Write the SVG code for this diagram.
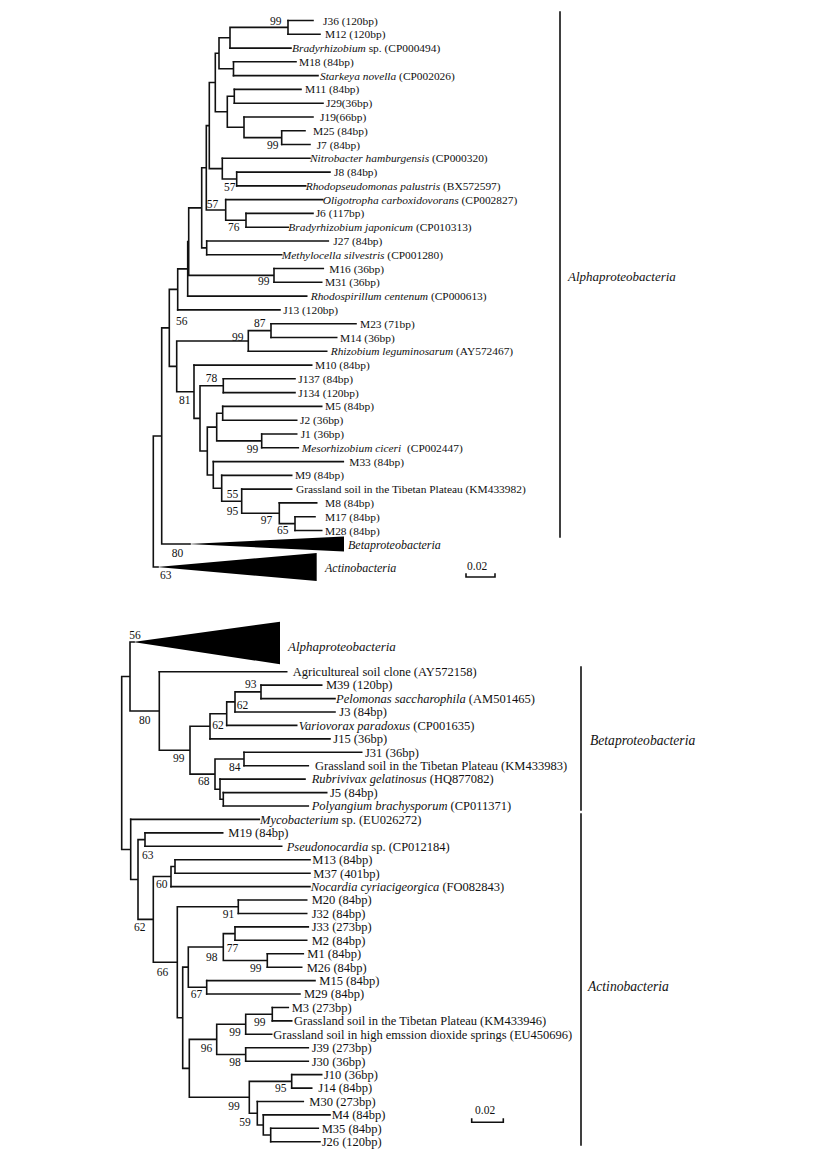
<svg xmlns="http://www.w3.org/2000/svg" width="820" height="1172" viewBox="0 0 820 1172">
<style>
.br{fill:none;stroke:#111;stroke-width:1.6;stroke-linecap:square}
text{font-family:"Liberation Serif","Times New Roman",serif;fill:#111}
.t{font-size:11.4px}
.b{font-size:12.5px}
.n{font-size:11.5px}
.i{font-style:italic}
.g1{font-size:12px;font-style:italic}
.g3{font-size:13px;font-style:italic}
.g2{font-size:13.6px;font-style:italic}
.tri{fill:#000}
</style>
<rect width="820" height="1172" fill="#fff"/>
<g id="connectors" class="br">
<path d="M288 20.5H313M288 34.3H320M230 48.1H291M233.5 61.8H296M233.5 75.6H318M234.3 89.4H301M234.3 103.2H323M244 117H313M281.7 130.7H305M281.7 144.5H310M222.3 158.3H310M236.7 172.1H330M236.7 185.9H305.7M225.7 199.6H322.7M246 213.4H313M246 227.2H288.3M206.7 241H328.3M206.7 254.8H281.7M274 268.5H323.3M274 282.3H321.7M187.7 296.1H306.7M177.7 309.9H280M271 323.7H356M271 337.5H336.7M248.3 351.3H326.7M194 365.1H311.7M223.3 378.8H295M223.3 392.6H295M222.7 406.4H321.7M222.7 420.2H296.7M261.7 434H296.7M261.7 447.8H298.3M213.3 461.6H343.3M221.7 475.4H291.7M241.7 489.1H291.7M279.3 502.9H316.7M295 516.7H315M295 530.5H321.7"/>
<path d="M288 20.5V34.3M230 27.4V48.1M230 27.4H288M233.5 61.8V75.6M219 37.75V68.7M219 37.75H230M219 68.7H233.5M234.3 89.4V103.2M281.7 130.7V144.5M244 117V137.6M244 137.6H281.7M227.3 96.3V127.3M227.3 96.3H234.3M227.3 127.3H244M215.3 53.2V111.8M215.3 53.2H219M215.3 111.8H227.3M236.7 172.1V185.9M222.3 158.3V179M222.3 179H236.7M209.3 82.5V168.65M209.3 82.5H215.3M209.3 168.65H222.3M246 213.4V227.2M225.7 199.6V220.3M225.7 220.3H246M206.3 125.6V210M206.3 125.6H209.3M206.3 210H225.7M206.7 241V254.8M201.7 167.8V247.9M201.7 167.8H206.3M201.7 247.9H206.7M274 268.5V282.3M188.7 207.85V275.4M188.7 207.85H201.7M188.7 275.4H274M187.7 241.6V296.1M187.7 241.6H188.7M177.7 268.85V309.9M177.7 268.85H187.7M271 323.7V337.5M248.3 330.6V351.3M248.3 330.6H271M223.3 378.8V392.6M222.7 406.4V420.2M261.7 434V447.8M216.7 413.3V440.9M216.7 413.3H222.7M216.7 440.9H261.7M295 516.7V530.5M279.3 502.9V523.6M279.3 523.6H295M241.7 489.1V513.25M241.7 513.25H279.3M221.7 475.4V501.2M221.7 501.2H241.7M213.3 461.6V488.3M213.3 488.3H221.7M207.3 427.1V475M207.3 427.1H216.7M207.3 475H213.3M200 385.7V451M200 385.7H223.3M200 451H207.3M194 365.1V418.4M194 418.4H200M176.7 341V391.7M176.7 341H248.3M176.7 391.7H194M169.3 289.4V366.4M169.3 289.4H177.7M169.3 366.4H176.7M161.7 327.9V544M161.7 327.9H169.3M161.7 544H190M153.3 436V567M153.3 436H161.7M153.3 567H158"/>
<path d="M159.3 671.7H286.7M261 685.1H321.7M261 698.6H335M235 712H335M226.7 725.4H296.7M210 738.9H330M244 752.3H361.7M244 765.7H308.3M220 779.1H305M223.3 792.6H326.7M223.3 806H308.3M130.7 819.4H259.3M145 832.9H222.7M145 846.3H281.7M175 859.7H310M175 873.2H310M171 886.6H310M238.3 900H306.7M238.3 913.5H306.7M235 926.9H308.3M235 940.3H306.7M267.3 953.7H303.3M267.3 967.2H301.7M206.7 980.6H315M206.7 994H300M272.3 1007.5H288.3M272.3 1020.9H291.7M245.7 1034.3H271.7M245.7 1047.8H308.3M245.7 1061.2H308.3M291.7 1074.6H321.7M291.7 1088.1H311.7M257.3 1101.5H303.3M263.3 1114.9H330M270.7 1128.3H318.3M270.7 1141.8H320"/>
<path d="M261 685.1V698.6M235 691.85V712M235 691.85H261M226.7 701.9V725.4M226.7 701.9H235M210 713.7V738.9M210 713.7H226.7M244 752.3V765.7M223.3 792.6V806M220 779.1V799.3M220 799.3H223.3M215 759V789.2M215 759H244M215 789.2H220M190 726.3V774.1M190 726.3H210M190 774.1H215M159.3 671.7V750.2M159.3 750.2H190M130 642V711M130 642H134M130 711H159.3M145 832.9V846.3M175 859.7V873.2M171 866.45V886.6M171 866.45H175M238.3 900V913.5M235 926.9V940.3M267.3 953.7V967.2M223.3 933.6V960.45M223.3 933.6H235M223.3 960.45H267.3M206.7 980.6V994M188.3 947V987.3M188.3 947H223.3M188.3 987.3H206.7M272.3 1007.5V1020.9M245.7 1014.2V1034.3M245.7 1014.2H272.3M245.7 1047.8V1061.2M216.7 1024.25V1054.5M216.7 1024.25H245.7M216.7 1054.5H245.7M291.7 1074.6V1088.1M270.7 1128.3V1141.8M263.3 1114.9V1135M263.3 1135H270.7M257.3 1101.5V1125M257.3 1125H263.3M249.3 1081.35V1113.25M249.3 1081.35H291.7M249.3 1113.25H257.3M189.3 1039.4V1097.3M189.3 1039.4H216.7M189.3 1097.3H249.3M182.7 967.15V1068.35M182.7 967.15H188.3M182.7 1068.35H189.3M177.3 906.75V1017.75M177.3 906.75H238.3M177.3 1017.75H182.7M153.3 876.5V962.25M153.3 876.5H171M153.3 962.25H177.3M138 839.6V919.4M138 839.6H145M138 919.4H153.3M130.7 819.4V879.5M130.7 879.5H138M121.7 676.5V849.45M121.7 676.5H130M121.7 849.45H130.7"/>
</g>
<g id="clade-brackets" class="br">
<path d="M560 12V537M581 667V810M581 814V1145"/>
</g>
<g id="scale-bars">
<path class="br" d="M466 574V577H495V574M471.7 1119V1122.3H503.3V1119"/>
<text class="n" x="467" y="569.5">0.02</text>
<text class="n" x="475" y="1114">0.02</text>
</g>
<g id="collapsed-top-beta"><polygon class="tri" points="188,544 344,536.5 344,551.5"/><text class="g1" x="348" y="549">Betaproteobacteria</text></g>
<g id="collapsed-top-actino"><polygon class="tri" points="157,567 316.7,553 316.7,581"/><text class="g1" x="325" y="572">Actinobacteria</text></g>
<g id="group-top-alpha"><text class="g3" x="568" y="281">Alphaproteobacteria</text></g>
<g id="collapsed-bottom-alpha"><polygon class="tri" points="133,642 280,621.7 280,664.3"/><text class="g3" x="288" y="650.5">Alphaproteobacteria</text></g>
<g id="group-bottom-beta"><text class="g2" x="590" y="745">Betaproteobacteria</text></g>
<g id="group-bottom-actino"><text class="g2" x="588" y="991">Actinobacteria</text></g>
<g id="leaves-top" class="t">
<g id="leaf-J36"><text class="t" x="323" y="24.5">J36 (120bp)</text></g>
<g id="leaf-M12"><text class="t" x="325" y="38.3">M12 (120bp)</text></g>
<g id="leaf-CP000494"><text class="t" x="292" y="52.1"><tspan class="i">Bradyrhizobium</tspan> sp. (CP000494)</text></g>
<g id="leaf-M18"><text class="t" x="299" y="65.8">M18 (84bp)</text></g>
<g id="leaf-CP002026"><text class="t" x="320" y="79.6"><tspan class="i">Starkeya novella</tspan> (CP002026)</text></g>
<g id="leaf-M11"><text class="t" x="305" y="93.4">M11 (84bp)</text></g>
<g id="leaf-J29"><text class="t" x="326" y="107.2">J29(36bp)</text></g>
<g id="leaf-J19"><text class="t" x="320" y="121">J19(66bp)</text></g>
<g id="leaf-M25"><text class="t" x="313" y="134.7">M25 (84bp)</text></g>
<g id="leaf-J7"><text class="t" x="316.7" y="148.5">J7 (84bp)</text></g>
<g id="leaf-CP000320"><text class="t" x="310" y="162.3"><tspan class="i">Nitrobacter hamburgensis</tspan> (CP000320)</text></g>
<g id="leaf-J8"><text class="t" x="334" y="176.1">J8 (84bp)</text></g>
<g id="leaf-BX572597"><text class="t" x="305.7" y="189.9"><tspan class="i">Rhodopseudomonas palustris</tspan> (BX572597)</text></g>
<g id="leaf-CP002827"><text class="t" x="322.7" y="203.6"><tspan class="i">Oligotropha carboxidovorans</tspan> (CP002827)</text></g>
<g id="leaf-J6"><text class="t" x="315.7" y="217.4">J6 (117bp)</text></g>
<g id="leaf-CP010313"><text class="t" x="288.3" y="231.2"><tspan class="i">Bradyrhizobium japonicum</tspan> (CP010313)</text></g>
<g id="leaf-J27"><text class="t" x="333.3" y="245">J27 (84bp)</text></g>
<g id="leaf-CP001280"><text class="t" x="281.7" y="258.8"><tspan class="i">Methylocella silvestris</tspan> (CP001280)</text></g>
<g id="leaf-M16"><text class="t" x="329.3" y="272.5">M16 (36bp)</text></g>
<g id="leaf-M31"><text class="t" x="325" y="286.3">M31 (36bp)</text></g>
<g id="leaf-CP000613"><text class="t" x="310.7" y="300.1"><tspan class="i">Rhodospirillum centenum</tspan> (CP000613)</text></g>
<g id="leaf-J13"><text class="t" x="283.3" y="313.9">J13 (120bp)</text></g>
<g id="leaf-M23"><text class="t" x="360" y="327.7">M23 (71bp)</text></g>
<g id="leaf-M14"><text class="t" x="340" y="341.5">M14 (36bp)</text></g>
<g id="leaf-AY572467"><text class="t" x="330.7" y="355.3"><tspan class="i">Rhizobium leguminosarum</tspan> (AY572467)</text></g>
<g id="leaf-M10"><text class="t" x="315" y="369.1">M10 (84bp)</text></g>
<g id="leaf-J137"><text class="t" x="298.3" y="382.8">J137 (84bp)</text></g>
<g id="leaf-J134"><text class="t" x="298.3" y="396.6">J134 (120bp)</text></g>
<g id="leaf-M5"><text class="t" x="325" y="410.4">M5 (84bp)</text></g>
<g id="leaf-J2"><text class="t" x="300" y="424.2">J2 (36bp)</text></g>
<g id="leaf-J1"><text class="t" x="300.7" y="438">J1 (36bp)</text></g>
<g id="leaf-CP002447"><text class="t" x="301.7" y="451.8"><tspan class="i">Mesorhizobium ciceri</tspan><tspan dx="3"> (CP002447)</tspan></text></g>
<g id="leaf-M33"><text class="t" x="349.3" y="465.6">M33 (84bp)</text></g>
<g id="leaf-M9"><text class="t" x="295" y="479.4">M9 (84bp)</text></g>
<g id="leaf-KM433982"><text class="t" x="296" y="493.1">Grassland soil in the Tibetan Plateau (KM433982)</text></g>
<g id="leaf-M8"><text class="t" x="325" y="506.9">M8 (84bp)</text></g>
<g id="leaf-M17"><text class="t" x="325" y="520.7">M17 (84bp)</text></g>
<g id="leaf-M28"><text class="t" x="325" y="534.5">M28 (84bp)</text></g>
</g>
<g id="leaves-bottom">
<g id="leaf-AY572158"><text class="b" x="292.7" y="676">Agricultureal soil clone (AY572158)</text></g>
<g id="leaf-M39"><text class="b" x="326" y="689.4">M39 (120bp)</text></g>
<g id="leaf-AM501465"><text class="b" x="336" y="702.9"><tspan class="i">Pelomonas saccharophila</tspan> (AM501465)</text></g>
<g id="leaf-J3"><text class="b" x="339.3" y="716.3">J3 (84bp)</text></g>
<g id="leaf-CP001635"><text class="b" x="298.7" y="729.7"><tspan class="i">Variovorax paradoxus</tspan> (CP001635)</text></g>
<g id="leaf-J15"><text class="b" x="333.3" y="743.2">J15 (36bp)</text></g>
<g id="leaf-J31"><text class="b" x="365" y="756.6">J31 (36bp)</text></g>
<g id="leaf-KM433983"><text class="b" x="315" y="770">Grassland soil in the Tibetan Plateau (KM433983)</text></g>
<g id="leaf-HQ877082"><text class="b" x="311.7" y="783.4"><tspan class="i">Rubrivivax gelatinosus</tspan> (HQ877082)</text></g>
<g id="leaf-J5"><text class="b" x="330" y="796.9">J5 (84bp)</text></g>
<g id="leaf-CP011371"><text class="b" x="311.7" y="810.3"><tspan class="i">Polyangium brachysporum</tspan> (CP011371)</text></g>
<g id="leaf-EU026272"><text class="b" x="260" y="823.7"><tspan class="i">Mycobacterium</tspan> sp. (EU026272)</text></g>
<g id="leaf-M19"><text class="b" x="228.3" y="837.2">M19 (84bp)</text></g>
<g id="leaf-CP012184"><text class="b" x="286.7" y="850.6"><tspan class="i">Pseudonocardia</tspan> sp. (CP012184)</text></g>
<g id="leaf-M13"><text class="b" x="312.3" y="864">M13 (84bp)</text></g>
<g id="leaf-M37"><text class="b" x="313.3" y="877.5">M37 (401bp)</text></g>
<g id="leaf-FO082843"><text class="b" x="310.7" y="890.9"><tspan class="i">Nocardia cyriacigeorgica</tspan> (FO082843)</text></g>
<g id="leaf-M20"><text class="b" x="311.7" y="904.3">M20 (84bp)</text></g>
<g id="leaf-J32"><text class="b" x="311.7" y="917.8">J32 (84bp)</text></g>
<g id="leaf-J33"><text class="b" x="311.7" y="931.2">J33 (273bp)</text></g>
<g id="leaf-M2"><text class="b" x="311.7" y="944.6">M2 (84bp)</text></g>
<g id="leaf-M1"><text class="b" x="307.3" y="958">M1 (84bp)</text></g>
<g id="leaf-M26"><text class="b" x="306.7" y="971.5">M26 (84bp)</text></g>
<g id="leaf-M15"><text class="b" x="319.3" y="984.9">M15 (84bp)</text></g>
<g id="leaf-M29"><text class="b" x="304" y="998.3">M29 (84bp)</text></g>
<g id="leaf-M3"><text class="b" x="291.7" y="1011.8">M3 (273bp)</text></g>
<g id="leaf-KM433946"><text class="b" x="294" y="1025.2">Grassland soil in the Tibetan Plateau (KM433946)</text></g>
<g id="leaf-EU450696"><text class="b" x="273.3" y="1038.6">Grassland soil in high emssion dioxide springs (EU450696)</text></g>
<g id="leaf-J39"><text class="b" x="311.7" y="1052.1">J39 (273bp)</text></g>
<g id="leaf-J30"><text class="b" x="311.7" y="1065.5">J30 (36bp)</text></g>
<g id="leaf-J10"><text class="b" x="324" y="1078.9">J10 (36bp)</text></g>
<g id="leaf-J14"><text class="b" x="318.3" y="1092.4">J14 (84bp)</text></g>
<g id="leaf-M30"><text class="b" x="309.3" y="1105.8">M30 (273bp)</text></g>
<g id="leaf-M4"><text class="b" x="331.7" y="1119.2">M4 (84bp)</text></g>
<g id="leaf-M35"><text class="b" x="321.7" y="1132.6">M35 (84bp)</text></g>
<g id="leaf-J26"><text class="b" x="321.7" y="1146.1">J26 (120bp)</text></g>
</g>
<g id="bootstrap-top" class="n">
<text class="n" x="270" y="24.5">99</text>
<text class="n" x="267" y="149">99</text>
<text class="n" x="224" y="190.5">57</text>
<text class="n" x="206.7" y="208">57</text>
<text class="n" x="228" y="230.5">76</text>
<text class="n" x="258" y="285">99</text>
<text class="n" x="176" y="325">56</text>
<text class="n" x="254" y="327">87</text>
<text class="n" x="232" y="340.5">99</text>
<text class="n" x="205.7" y="382">78</text>
<text class="n" x="179" y="404">81</text>
<text class="n" x="246.7" y="453">99</text>
<text class="n" x="226.7" y="498">55</text>
<text class="n" x="226.7" y="515">95</text>
<text class="n" x="260.7" y="524">97</text>
<text class="n" x="277" y="534">65</text>
<text class="n" x="171.7" y="556.5">80</text>
<text class="n" x="160" y="579">63</text>
</g>
<g id="bootstrap-bottom">
<text class="n" x="129.3" y="639">56</text>
<text class="n" x="139" y="724">80</text>
<text class="n" x="245" y="688">93</text>
<text class="n" x="236.7" y="709">62</text>
<text class="n" x="212.3" y="729">62</text>
<text class="n" x="173" y="762">99</text>
<text class="n" x="229" y="770.5">84</text>
<text class="n" x="198" y="785">68</text>
<text class="n" x="142" y="859">63</text>
<text class="n" x="156" y="888">60</text>
<text class="n" x="134" y="931">62</text>
<text class="n" x="222.7" y="918">91</text>
<text class="n" x="206" y="960.5">98</text>
<text class="n" x="226.7" y="952">77</text>
<text class="n" x="250" y="971.5">99</text>
<text class="n" x="156.7" y="976">66</text>
<text class="n" x="190.7" y="998">67</text>
<text class="n" x="254" y="1025.5">99</text>
<text class="n" x="229.3" y="1036">99</text>
<text class="n" x="200.7" y="1051.5">96</text>
<text class="n" x="229.3" y="1065.5">98</text>
<text class="n" x="275" y="1091.5">95</text>
<text class="n" x="228.3" y="1109.5">99</text>
<text class="n" x="239.3" y="1125.5">59</text>
</g>
</svg>
